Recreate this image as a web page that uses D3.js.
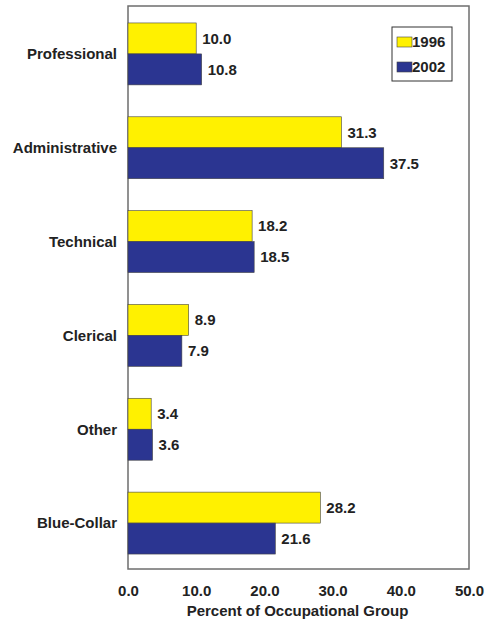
<!DOCTYPE html>
<html>
<head>
<meta charset="utf-8">
<script src="https://cdn.jsdelivr.net/npm/d3@7"></script>
<style>
  html, body { margin: 0; padding: 0; background: #fff; }
  svg text { font-family: "Liberation Sans", Arial, sans-serif; font-weight: bold; fill: #222; }
</style>
</head>
<body>
<svg id="chart" width="486" height="625"></svg>
<script>
// Occupational groups and their shares for each survey year
const categories = ["Professional", "Administrative", "Technical", "Clerical", "Other", "Blue-Collar"];
const years = ["1996", "2002"];
const values1996 = [10.0, 31.3, 18.2, 8.9, 3.4, 28.2];
const values2002 = [10.8, 37.5, 18.5, 7.9, 3.6, 21.6];
const xTicks = [0, 10, 20, 30, 40, 50];
const axisTitle = "Percent of Occupational Group";
const colors = ["#FFF100", "#2B3591"];

const seriesValues = [values1996, values2002];
const svg = d3.select("#chart");
const fs = 15;

const plot = { left: 128, right: 469, top: 6, bottom: 569 };

const x = d3.scaleLinear().domain([0, 50]).range([plot.left, plot.right]);
const y = d3.scaleBand().domain(categories).range([plot.top + 1, plot.bottom + 1])
  .paddingInner(0.34).paddingOuter(0.17);
const ySub = d3.scaleBand().domain(years).range([0, y.bandwidth()]);

// plot frame
svg.append("rect")
  .attr("x", plot.left).attr("y", plot.top)
  .attr("width", plot.right - plot.left).attr("height", plot.bottom - plot.top)
  .attr("fill", "none").attr("stroke", "#6e6e6e").attr("stroke-width", 1.5);

// bars
const rows = categories.map((c, i) => ({ cat: c, vals: years.map((yr, j) => ({ yr, j, v: seriesValues[j][i] })) }));
const groups = svg.selectAll("g.grp").data(rows).join("g")
  .attr("class", "grp")
  .attr("transform", d => `translate(0,${y(d.cat)})`);

groups.selectAll("rect").data(d => d.vals).join("rect")
  .attr("x", x(0))
  .attr("y", d => ySub(d.yr))
  .attr("width", d => x(d.v) - x(0))
  .attr("height", ySub.bandwidth())
  .attr("fill", d => colors[d.j])
  .attr("stroke", "#444").attr("stroke-width", 0.6);

// value labels
groups.selectAll("text.val").data(d => d.vals).join("text")
  .attr("class", "val")
  .attr("x", d => x(d.v) + 6)
  .attr("y", d => ySub(d.yr) + ySub.bandwidth() / 2)
  .attr("dy", "0.36em")
  .attr("font-size", fs)
  .text(d => d.v.toFixed(1));

// category labels
svg.selectAll("text.cat").data(categories).join("text")
  .attr("class", "cat")
  .attr("x", 117)
  .attr("y", d => y(d) + y.bandwidth() / 2)
  .attr("dy", "0.36em")
  .attr("text-anchor", "end")
  .attr("font-size", fs)
  .text(d => d);

// x axis tick labels
const xAxis = d3.axisBottom(x).tickValues(xTicks).tickFormat(d3.format(".1f")).tickSize(0).tickPadding(0);
const gx = svg.append("g").attr("transform", `translate(0,591)`).call(xAxis);
gx.select(".domain").remove();
gx.selectAll("text").attr("y", 0).attr("dy", "0.36em")
  .attr("font-size", fs).attr("fill", "#222")
  .attr("font-family", "Liberation Sans, Arial, sans-serif").attr("font-weight", "bold");

// axis title
svg.append("text")
  .attr("x", (plot.left + plot.right) / 2 - 1)
  .attr("y", 611)
  .attr("dy", "0.36em")
  .attr("text-anchor", "middle")
  .attr("font-size", fs)
  .text(axisTitle);

// legend
const lg = svg.append("g").attr("transform", "translate(392,27)");
lg.append("rect").attr("x", 0).attr("y", 0).attr("width", 60).attr("height", 54)
  .attr("fill", "#fff").attr("stroke", "#333").attr("stroke-width", 1);
years.forEach((yr, j) => {
  const yy = 10 + j * 25;
  lg.append("rect").attr("x", 5).attr("y", yy).attr("width", 15).attr("height", 10)
    .attr("fill", colors[j]).attr("stroke", "#444").attr("stroke-width", 0.6);
  lg.append("text").attr("x", 20).attr("y", yy + 5).attr("dy", "0.36em")
    .attr("font-size", fs).text(yr);
});
</script>
</body>
</html>
